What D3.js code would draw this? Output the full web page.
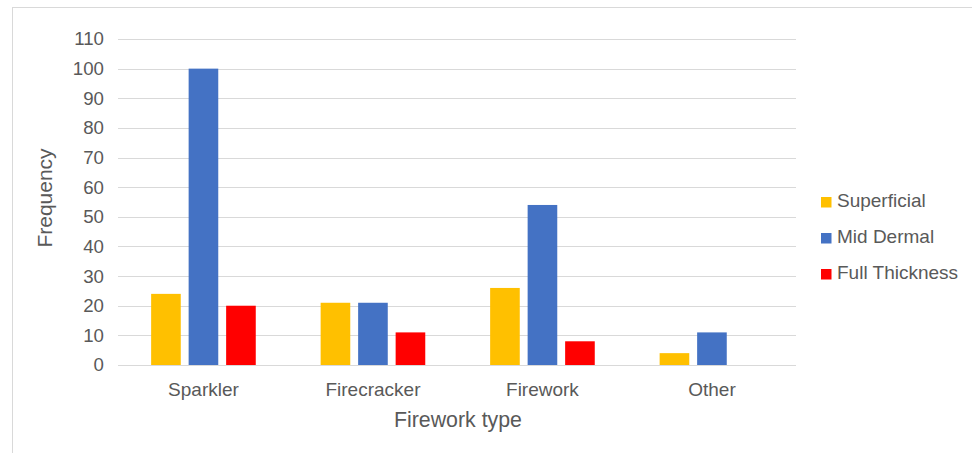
<!DOCTYPE html>
<html>
<head>
<meta charset="utf-8">
<script src="https://cdn.jsdelivr.net/npm/d3@7"></script>
<style>
  html, body { margin: 0; padding: 0; background: #fff; }
  svg { display: block; font-family: "Liberation Sans", Arial, sans-serif; }
</style>
</head>
<body>
<svg id="chart" width="972" height="453"></svg>
<script>
// Burn depth frequencies by firework type
const categories = ["Sparkler", "Firecracker", "Firework", "Other"];
const seriesNames = ["Superficial", "Mid Dermal", "Full Thickness"];
const superficial = [24, 21, 26, 4];
const midDermal = [100, 21, 54, 11];
const fullThickness = [20, 11, 8, 0];
const yTicks = [0, 10, 20, 30, 40, 50, 60, 70, 80, 90, 100, 110];
const colors = ["#FFC000", "#4472C4", "#FF0000"];

const seriesValues = [superficial, midDermal, fullThickness];
const rows = categories.map((c, i) => ({
  category: c,
  values: seriesNames.map((s, j) => ({ series: s, value: seriesValues[j][i], color: colors[j] }))
}));

const svg = d3.select("#chart");
const textColor = "#595959";
const gridColor = "#D9D9D9";

// outer chart frame
svg.append("rect")
  .attr("x", 12.5).attr("y", 7.5)
  .attr("width", 1000).attr("height", 500)
  .attr("fill", "none").attr("stroke", gridColor).attr("stroke-width", 1);

const plot = { left: 118, right: 796, top: 39, bottom: 365 };

const x0 = d3.scaleBand().domain(categories).range([plot.left + 0.7, plot.right + 0.7]).padding(0);
const x1 = d3.scaleBand().domain(seriesNames).range([0, x0.bandwidth()])
  .paddingInner(0.21).paddingOuter(0.865);
const y = d3.scaleLinear().domain([0, 110]).range([plot.bottom, plot.top]);

// horizontal gridlines
svg.append("g")
  .selectAll("line")
  .data(yTicks)
  .join("line")
  .attr("x1", plot.left).attr("x2", plot.right)
  .attr("y1", d => Math.round(y(d)) + 0.5).attr("y2", d => Math.round(y(d)) + 0.5)
  .attr("stroke", gridColor).attr("stroke-width", 1.2);

// y axis labels
const yAxis = d3.axisLeft(y).tickValues(yTicks).tickSize(0).tickPadding(0);
const gy = svg.append("g").attr("transform", `translate(${plot.left - 14},0)`).call(yAxis);
gy.select(".domain").remove();
gy.selectAll("text")
  .attr("font-size", "18.67px").attr("fill", textColor)
  .attr("font-family", "Liberation Sans, Arial, sans-serif");

// bars
const groups = svg.append("g")
  .selectAll("g")
  .data(rows)
  .join("g")
  .attr("transform", d => `translate(${x0(d.category)},0)`);

groups.selectAll("rect")
  .data(d => d.values)
  .join("rect")
  .attr("x", d => x1(d.series))
  .attr("width", x1.bandwidth())
  .attr("y", d => y(d.value))
  .attr("height", d => y(0) - y(d.value))
  .attr("fill", d => d.color);

// category labels
const xAxis = d3.axisBottom(x0).tickSize(0).tickPadding(0);
const gx = svg.append("g").attr("transform", `translate(0,${plot.bottom})`).call(xAxis);
gx.select(".domain").remove();
gx.selectAll("text")
  .attr("dy", null)
  .attr("y", 31)
  .attr("font-size", "19px").attr("fill", textColor)
  .attr("font-family", "Liberation Sans, Arial, sans-serif");

// axis titles
svg.append("text")
  .attr("x", (plot.left + plot.right) / 2 + 1)
  .attr("y", 427)
  .attr("text-anchor", "middle")
  .attr("font-size", "21.33px").attr("fill", textColor)
  .text("Firework type");

svg.append("text")
  .attr("transform", `translate(52,${(plot.top + plot.bottom) / 2 - 4}) rotate(-90)`)
  .attr("text-anchor", "middle")
  .attr("font-size", "21px").attr("fill", textColor)
  .text("Frequency");

// legend
const legend = svg.append("g").attr("transform", "translate(821,197)");
const items = legend.selectAll("g")
  .data(seriesNames)
  .join("g")
  .attr("transform", (d, i) => `translate(0,${i * 36})`);
items.append("rect")
  .attr("width", 10.5).attr("height", 10.5)
  .attr("fill", (d, i) => colors[i]);
items.append("text")
  .attr("x", 16).attr("y", 10)
  .attr("font-size", "19px").attr("fill", textColor)
  .text(d => d);
</script>
</body>
</html>
